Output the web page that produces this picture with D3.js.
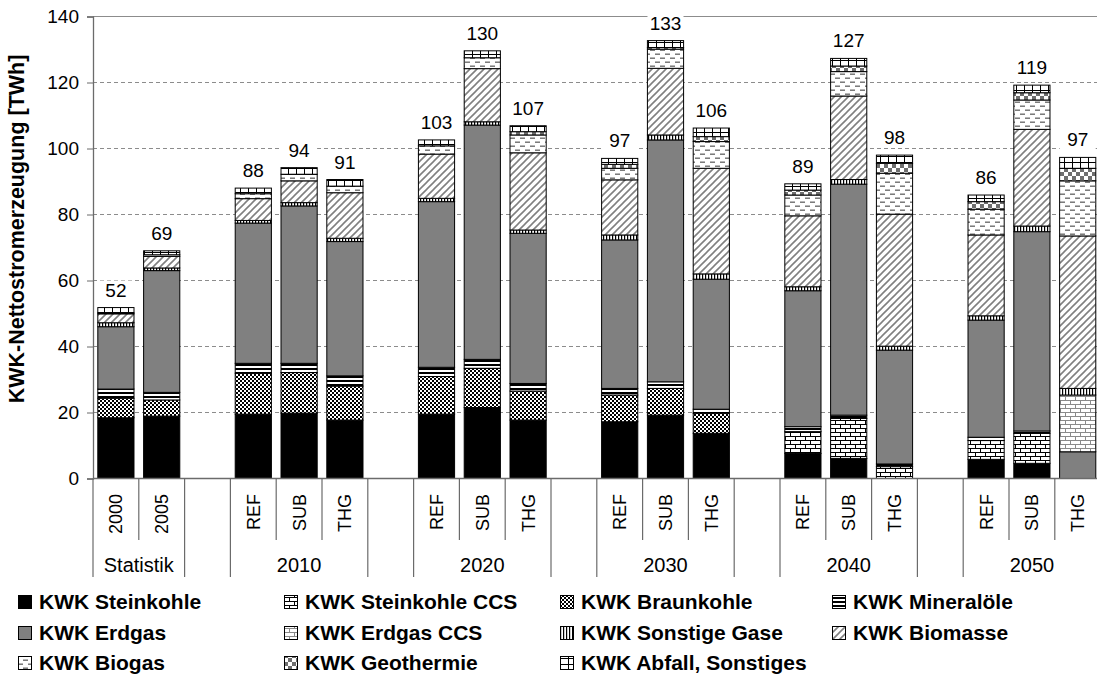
<!DOCTYPE html>
<html>
<head>
<meta charset="utf-8">
<script src="https://cdn.jsdelivr.net/npm/d3@7"></script>
<style>
  html, body { margin: 0; padding: 0; background: #fff; }
  svg { display: block; font-family: "Liberation Sans", Arial, sans-serif; }
</style>
</head>
<body>
<svg id="chart" width="1097" height="682"></svg>
<script>
// Bars in drawing order (left to right), grouped on the axis
const groupNames = ["Statistik", "2010", "2020", "2030", "2040", "2050"];
const statYears = ["2000", "2005"];
const scenarios = ["REF", "SUB", "THG"];

// Net CHP electricity generation in TWh, one value per bar
const steinkohle      = [18.4, 18.9, 19.5, 19.8, 17.7, 19.5, 21.5, 17.7, 17.2, 19.2, 13.7, 7.6, 6.1, 0, 5.8, 4.6, 0];
const steinkohleCCS   = [0, 0, 0, 0, 0, 0, 0, 0, 0, 0, 0, 6.6, 12.1, 3.6, 5.7, 9.1, 0];
const braunkohle      = [5.9, 4.9, 12.4, 12.3, 10.3, 11.4, 11.9, 8.8, 8.1, 8.1, 6.1, 0, 0, 0, 0, 0, 0];
const mineraloele     = [2.8, 2.3, 3.0, 2.8, 3.1, 2.8, 2.7, 2.3, 2.0, 2.0, 1.2, 1.5, 1.0, 0.8, 1.0, 0.7, 0];
const erdgas          = [18.9, 36.9, 42.5, 47.7, 40.7, 50.2, 71.0, 45.5, 45.0, 73.3, 39.4, 41.2, 70.0, 34.5, 35.5, 60.4, 8.1];
const erdgasCCS       = [0, 0, 0, 0, 0, 0, 0, 0, 0, 0, 0, 0, 0, 0, 0, 0, 17.2];
const sonstigeGase    = [1.2, 0.8, 0.8, 1.0, 1.0, 1.0, 1.0, 1.0, 1.5, 1.5, 1.6, 1.2, 1.4, 1.2, 1.3, 1.7, 2.0];
const biomasse        = [2.7, 3.5, 6.6, 6.6, 13.8, 13.4, 16.1, 23.4, 16.7, 20.2, 32.0, 21.5, 25.3, 40.0, 24.5, 29.3, 46.2];
const biogas          = [0.3, 0.5, 1.5, 2.0, 2.0, 2.5, 3.3, 5.4, 3.5, 5.8, 8.1, 6.3, 7.4, 12.4, 7.8, 8.9, 16.7];
const geothermie      = [0, 0, 0, 0, 0, 0, 0, 1.0, 1.2, 0.5, 1.5, 1.5, 1.7, 3.0, 2.3, 2.2, 3.8];
const abfall          = [1.6, 1.2, 1.7, 2.0, 2.0, 1.8, 2.1, 1.8, 1.8, 2.1, 2.6, 1.9, 2.3, 2.5, 2.0, 2.3, 3.3];

const seriesNames = [
  "KWK Steinkohle", "KWK Steinkohle CCS", "KWK Braunkohle", "KWK Mineralöle",
  "KWK Erdgas", "KWK Erdgas CCS", "KWK Sonstige Gase", "KWK Biomasse",
  "KWK Biogas", "KWK Geothermie", "KWK Abfall, Sonstiges"
];
const seriesValues = [steinkohle, steinkohleCCS, braunkohle, mineraloele, erdgas,
  erdgasCCS, sonstigeGase, biomasse, biogas, geothermie, abfall];
const seriesFill = ["#000", "url(#p-brick)", "url(#p-fine)", "url(#p-hstripe)", "#808080",
  "url(#p-brick-grey)", "url(#p-vstripe)", "url(#p-diag)", "url(#p-dash)", "url(#p-check)", "url(#p-grid)"];

const yTicks = [0, 20, 40, 60, 80, 100, 120, 140];
const yTitle = "KWK-Nettostromerzeugung [TWh]";

// ---- slots on the category axis: bars plus one empty slot between groups
const slots = [];   // {key, group, label, bar index or -1}
let barIdx = 0;
groupNames.forEach((g, gi) => {
  const members = gi === 0 ? statYears : scenarios;
  members.forEach(m => slots.push({ key: g + "|" + m, group: g, label: m, bar: barIdx++ }));
  if (gi < groupNames.length - 1) slots.push({ key: "gap" + gi, group: null, label: "", bar: -1 });
});
const barSlots = slots.filter(s => s.bar >= 0);

const svg = d3.select("#chart");
const plotLeft = 93, plotRight = 1100.6, plotTop = 16.5, plotBottom = 478.5;

const x = d3.scaleBand().domain(slots.map(s => s.key)).range([plotLeft, plotRight])
  .paddingInner(0.21).paddingOuter(0.105);
const y = d3.scaleLinear().domain([0, 140]).range([plotBottom, plotTop]);
const step = x.step();
const slotLeft = key => x(key) - (step - x.bandwidth()) / 2;

// ---- fill patterns
const defs = svg.append("defs");
function pattern(id, w, h) {
  const p = defs.append("pattern").attr("id", id).attr("patternUnits", "userSpaceOnUse")
    .attr("width", w).attr("height", h);
  p.append("rect").attr("width", w).attr("height", h).attr("fill", "#fff");
  return p;
}
function brick(id, col) {
  const p = pattern(id, 10, 8);
  p.append("path").attr("d", "M0,0.5H10M0,4.5H10M0.5,0V4.5M5.5,4.5V8")
    .attr("stroke", col).attr("stroke-width", 1).attr("fill", "none");
}
brick("p-brick", "#000");
brick("p-brick-grey", "#8a8a8a");
{ const p = pattern("p-fine", 4, 4);
  p.append("rect").attr("width", 2).attr("height", 2).attr("fill", "#000");
  p.append("rect").attr("x", 2).attr("y", 2).attr("width", 2).attr("height", 2).attr("fill", "#000"); }
{ const p = pattern("p-hstripe", 4, 4);
  p.append("rect").attr("width", 4).attr("height", 2).attr("fill", "#000"); }
{ const p = pattern("p-vstripe", 3, 3);
  p.append("rect").attr("width", 1.2).attr("height", 3).attr("fill", "#000"); }
{ const p = pattern("p-diag", 7, 7);
  p.append("path").attr("d", "M0,7L7,0M-2,2L2,-2M5,9L9,5")
    .attr("stroke", "#808080").attr("stroke-width", 1.6); }
{ const p = pattern("p-dash", 10, 8);
  p.append("rect").attr("x", 0).attr("y", 1.5).attr("width", 5).attr("height", 1.4).attr("fill", "#6e6e6e");
  p.append("rect").attr("x", 5).attr("y", 5.5).attr("width", 5).attr("height", 1.4).attr("fill", "#6e6e6e"); }
{ const p = pattern("p-check", 8, 8);
  p.append("rect").attr("width", 4).attr("height", 4).attr("fill", "#6e6e6e");
  p.append("rect").attr("x", 4).attr("y", 4).attr("width", 4).attr("height", 4).attr("fill", "#6e6e6e"); }
{ const p = pattern("p-grid", 8, 6);
  p.append("path").attr("d", "M0,0.5H8M0.5,0V6").attr("stroke", "#000").attr("stroke-width", 1); }

// ---- gridlines and y axis
const grid = svg.append("g");
grid.selectAll("line").data(yTicks.filter(t => t > 0)).join("line")
  .attr("x1", plotLeft).attr("x2", plotRight).attr("y1", d => y(d)).attr("y2", d => y(d))
  .attr("stroke", "#8c8c8c").attr("stroke-width", 1)
  .attr("stroke-dasharray", d => d === 140 ? null : "4,3");

const yAxis = svg.append("g").attr("transform", `translate(${plotLeft},0)`)
  .call(d3.axisLeft(y).tickValues(yTicks).tickSize(6).tickPadding(8));
yAxis.select(".domain").attr("stroke", "#6b6b6b").attr("stroke-width", 1.3);
yAxis.selectAll(".tick line").attr("stroke", "#6b6b6b");
yAxis.selectAll(".tick text").attr("font-size", 19).attr("fill", "#000")
  .attr("font-family", "Liberation Sans, Arial, sans-serif");

svg.append("text").attr("transform", `translate(24,229) rotate(-90)`)
  .attr("text-anchor", "middle").attr("font-size", 21.5).attr("font-weight", "bold")
  .text(yTitle);

// ---- stacked bars
const stackedData = barSlots.map(s => {
  const o = { key: s.key };
  seriesNames.forEach((n, i) => { o[n] = seriesValues[i][s.bar]; });
  return o;
});
const stack = d3.stack().keys(seriesNames)(stackedData);

const barsG = svg.append("g");
stack.forEach((layer, li) => {
  barsG.append("g").selectAll("rect")
    .data(layer.filter(d => d[1] - d[0] > 0))
    .join("rect")
    .attr("x", d => x(d.data.key))
    .attr("width", x.bandwidth())
    .attr("y", d => y(d[1]))
    .attr("height", d => y(d[0]) - y(d[1]))
    .attr("fill", seriesFill[li])
    .attr("stroke", "#000").attr("stroke-width", 1);
});

// total labels
const totals = barSlots.map(s => ({ key: s.key, total: d3.sum(seriesValues, v => v[s.bar]) }));
const lab = svg.append("g").selectAll("g").data(totals).join("g")
  .attr("transform", d => `translate(${x(d.key) + x.bandwidth() / 2},${y(d.total) - 11})`);
lab.append("rect").attr("x", -18).attr("y", -16).attr("width", 36).attr("height", 19).attr("fill", "#fff");
lab.append("text").attr("text-anchor", "middle").attr("font-size", 19)
  .text(d => Math.round(d.total));

// ---- category axis
svg.append("line").attr("x1", plotLeft).attr("x2", plotRight).attr("y1", plotBottom).attr("y2", plotBottom)
  .attr("stroke", "#6b6b6b").attr("stroke-width", 1.3);

// slot dividers: long ones at group borders, short ones inside groups
const dividers = d3.range(slots.length + 1).map(k => {
  const prev = slots[k - 1], next = slots[k];
  const long = !prev || !next || prev.group !== next.group;
  return { xPos: plotLeft + k * step, long };
});
svg.append("g").selectAll("line").data(dividers).join("line")
  .attr("x1", d => d.xPos).attr("x2", d => d.xPos)
  .attr("y1", plotBottom).attr("y2", d => d.long ? 577 : 540)
  .attr("stroke", "#6b6b6b").attr("stroke-width", 1.2);

svg.append("g").selectAll("text").data(barSlots).join("text")
  .attr("transform", d => `translate(${x(d.key) + x.bandwidth() / 2 + 6.5},494) rotate(-90)`)
  .attr("text-anchor", "end").attr("font-size", 18).text(d => d.label);

svg.append("g").selectAll("text").data(groupNames).join("text")
  .attr("x", g => {
    const ks = slots.filter(s => s.group === g);
    return (slotLeft(ks[0].key) + slotLeft(ks[ks.length - 1].key) + step) / 2;
  })
  .attr("y", 572).attr("text-anchor", "middle").attr("font-size", 20).text(g => g);

// ---- legend, four columns, read row by row
const legCols = [18, 284, 560, 832];
const legRows = [609, 640, 670];
const leg = svg.append("g").selectAll("g").data(seriesNames).join("g")
  .attr("transform", (d, i) => `translate(${legCols[i % 4]},${legRows[Math.floor(i / 4)]})`);
leg.append("rect").attr("x", 0.5).attr("y", -13.5).attr("width", 13).attr("height", 13)
  .attr("fill", (d, i) => seriesFill[i]).attr("stroke", "#000").attr("stroke-width", 1);
leg.append("text").attr("x", 21).attr("font-size", 21).attr("font-weight", "bold").text(d => d);
</script>
</body>
</html>
